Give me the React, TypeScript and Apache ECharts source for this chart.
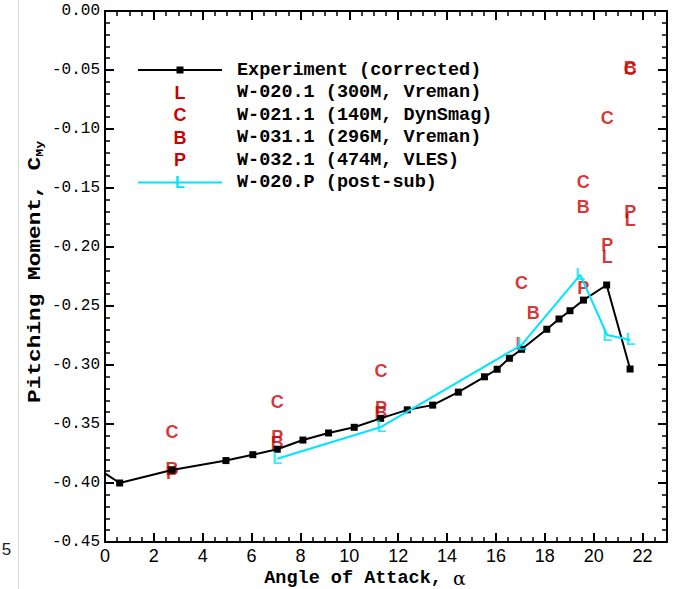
import React, { useEffect, useRef } from 'react';
import * as echarts from 'echarts';

// Experiment (corrected)
const expAlpha = [-0.5, 0.6, 2.74, 4.95, 6.05, 7.05, 8.1, 9.15, 10.2, 11.28, 12.37, 13.41, 14.46, 15.53, 16.05, 16.55, 17.05, 18.08, 18.58, 19.03, 19.58, 20.53, 21.49];
const expCmy = [-0.385, -0.4, -0.389, -0.381, -0.376, -0.3714, -0.3636, -0.3576, -0.3528, -0.3452, -0.338, -0.334, -0.323, -0.31, -0.3036, -0.2943, -0.2867, -0.2697, -0.261, -0.254, -0.245, -0.2322, -0.3034];

// W-020.P (post-sub)
const postAlpha = [7.05, 11.3, 17.05, 19.45, 20.55, 21.5];
const postCmy = [-0.3795, -0.3525, -0.283, -0.2237, -0.2746, -0.2788];

// W-020.1 (300M, Vreman)  -> "L"
const lAlpha = [17.03, 20.55, 21.5];
const lCmy = [-0.282, -0.2082, -0.1771];
// W-021.1 (140M, DynSmag) -> "C"
const cAlpha = [2.74, 7.05, 11.3, 17.05, 19.57, 20.55, 21.5];
const cCmy = [-0.3568, -0.331, -0.305, -0.2308, -0.1446, -0.0909, -0.0495];
// W-031.1 (296M, Vreman) -> "B"
const bAlpha = [2.74, 7.05, 11.3, 17.53, 19.57, 21.5];
const bCmy = [-0.388, -0.3664, -0.341, -0.2557, -0.1658, -0.048];
// W-032.1 (474M, VLES) -> "P"
const pAlpha = [2.74, 7.05, 11.3, 19.57, 20.55, 21.5];
const pCmy = [-0.3915, -0.3608, -0.3365, -0.2347, -0.1983, -0.1701];

const legendNames = [
  'Experiment (corrected)',
  'W-020.1 (300M, Vreman)',
  'W-021.1 (140M, DynSmag)',
  'W-031.1 (296M, Vreman)',
  'W-032.1 (474M, VLES)',
  'W-020.P (post-sub)',
];
const legendLetters = ['L', 'C', 'B', 'P'];

const RED = '#cc0000';
const CYAN = '#00e5ff';
const MONO = "'Liberation Mono', 'DejaVu Sans Mono', monospace";
const SANS = "'Liberation Sans', Arial, sans-serif";
const NARROW = "'Liberation Sans Narrow', 'Liberation Sans', Arial, sans-serif";

const zip = (a: number[], b: number[]) => a.map((v, i) => [v, b[i]]);

function letterSeries(name: string, letter: string, xs: number[], ys: number[], color: string, bold: boolean, size: number, z: number) {
  return {
    name,
    type: 'scatter',
    data: zip(xs, ys),
    symbol: 'circle',
    symbolSize: 1,
    itemStyle: { color: 'rgba(0,0,0,0)' },
    z,
    label: {
      show: true,
      position: 'inside',
      formatter: letter,
      color,
      fontSize: size,
      fontWeight: bold ? 'bold' : 'normal',
      fontFamily: SANS,
    },
    emphasis: { disabled: true },
  };
}

const black = { color: '#000', width: 2 };

export default function App() {
  const ref = useRef<HTMLDivElement>(null);
  useEffect(() => {
    const chart = echarts.init(ref.current!, undefined, { renderer: 'svg' });
    const legendX0 = 138, legendX1 = 222, legendMX = 180, legendTX = 237, legendY0 = 70, legendDY = 22.5;
    const graphics: any[] = [
      { type: 'line', shape: { x1: 18.5, y1: 0, x2: 18.5, y2: 589 }, style: { stroke: '#dcdcdc', lineWidth: 1 } },
      { type: 'text', x: 6.5, y: 549, style: { text: '5', font: `17px ${SANS}`, fill: '#222', align: 'center', verticalAlign: 'middle' } },
      // legend
      { type: 'line', shape: { x1: legendX0, y1: legendY0, x2: legendX1, y2: legendY0 }, style: { stroke: '#000', lineWidth: 2 }, z: 10 },
      { type: 'rect', shape: { x: legendMX - 3.5, y: legendY0 - 3.5, width: 7, height: 7 }, style: { fill: '#000' }, z: 10 },
      { type: 'line', shape: { x1: legendX0, y1: legendY0 + 5 * legendDY, x2: legendX1, y2: legendY0 + 5 * legendDY }, style: { stroke: CYAN, lineWidth: 2 }, z: 10 },
      { type: 'text', x: legendMX, y: legendY0 + 5 * legendDY, style: { text: 'L', font: `bold 16px ${SANS}`, fill: CYAN, align: 'center', verticalAlign: 'middle' }, z: 11 },
      // axis titles
      {
        type: 'text', x: 365, y: 578, z: 10,
        style: {
          text: '{a|Angle of Attack, }{g|α}', align: 'center', verticalAlign: 'middle',
          rich: { a: { fontFamily: MONO, fontWeight: 'bold', fontSize: 18.5, fill: '#000' }, g: { fontFamily: "'DejaVu Serif', 'Liberation Serif', serif", fontSize: 19, fill: '#000' } },
        },
      },
      {
        type: 'text', x: 35, y: 272, rotation: Math.PI / 2, scaleX: 1.2, z: 10,
        style: {
          text: '{a|Pitching Moment, C}{s|My}', align: 'center', verticalAlign: 'middle',
          rich: { a: { fontFamily: MONO, fontWeight: 'bold', fontSize: 19, lineHeight: 22, fill: '#000' }, s: { fontFamily: MONO, fontWeight: 'bold', fontSize: 11, lineHeight: 12, verticalAlign: 'bottom', fill: '#000' } },
        },
      },
    ];
    legendLetters.forEach((l, i) => {
      graphics.push({ type: 'text', x: legendMX, y: legendY0 + (i + 1) * legendDY, z: 11, style: { text: l, font: `bold 18px ${SANS}`, fill: RED, align: 'center', verticalAlign: 'middle' } });
    });
    legendNames.forEach((n, i) => {
      graphics.push({ type: 'text', x: legendTX, y: legendY0 + i * legendDY, z: 11, style: { text: n, font: `bold 18.5px ${MONO}`, fill: '#000', align: 'left', verticalAlign: 'middle' } });
    });

    const xMajor = (pos: string, labels: boolean) => ({
      type: 'value', position: pos, min: 0, max: 23, interval: 2,
      axisLine: { show: true, onZero: false, lineStyle: black },
      axisTick: { show: true, inside: true, length: 9, lineStyle: black },
      axisLabel: labels
        ? { show: true, fontFamily: NARROW, fontSize: 18, color: '#000', margin: 5, showMaxLabel: false, formatter: (v: number) => (v > 22.5 ? '' : String(v)) }
        : { show: false },
      splitLine: { show: false },
    });
    const xMinor = (pos: string) => ({
      type: 'value', position: pos, min: 0, max: 23, interval: 0.5,
      axisLine: { show: false, onZero: false },
      axisTick: { show: true, inside: true, length: 5, lineStyle: { color: '#000', width: 1.5 } },
      axisLabel: { show: false },
      splitLine: { show: false },
    });
    const yAx = (pos: string, labels: boolean) => ({
      type: 'value', position: pos, min: -0.45, max: 0, interval: 0.05,
      axisLine: { show: true, onZero: false, lineStyle: black },
      axisTick: { show: true, inside: true, length: 9, lineStyle: black },
      minorTick: { show: true, splitNumber: 5, length: 5, lineStyle: { color: '#000', width: 1.5 } },
      axisLabel: labels
        ? { show: true, fontFamily: MONO, fontSize: 16, color: '#000', margin: 5, formatter: (v: number) => v.toFixed(2) }
        : { show: false },
      splitLine: { show: false },
      minorSplitLine: { show: false },
    });

    chart.setOption({
      animation: false,
      backgroundColor: '#fff',
      grid: { left: 105, right: 10, top: 11, bottom: 47, containLabel: false },
      xAxis: [xMajor('bottom', true), xMajor('top', false), xMinor('bottom'), xMinor('top')],
      yAxis: [yAx('left', true), yAx('right', false)],
      graphic: graphics,
      series: [
        letterSeries(legendNames[1], 'L', lAlpha, lCmy, RED, true, 18, 2),
        letterSeries(legendNames[2], 'C', cAlpha, cCmy, RED, true, 18, 2),
        letterSeries(legendNames[3], 'B', bAlpha, bCmy, RED, true, 18, 2),
        letterSeries(legendNames[4], 'P', pAlpha, pCmy, RED, true, 18, 2),
        {
          name: legendNames[0], type: 'line', data: zip(expAlpha, expCmy), z: 3,
          symbol: 'rect', symbolSize: 7, showSymbol: true, showAllSymbol: true,
          itemStyle: { color: '#000' }, lineStyle: { color: '#000', width: 2 },
          emphasis: { disabled: true },
        },
        {
          name: legendNames[5], type: 'line', data: zip(postAlpha, postCmy), z: 4,
          symbol: 'none', lineStyle: { color: CYAN, width: 2 },
          emphasis: { disabled: true },
        },
        letterSeries(legendNames[5] + ' sym', 'L', postAlpha, postCmy, CYAN, true, 16, 5),
      ],
    });
    return () => chart.dispose();
  }, []);
  return <div ref={ref} style={{ position: 'fixed', left: 0, top: 0, width: 677, height: 589, background: '#fff' }} />;
}
